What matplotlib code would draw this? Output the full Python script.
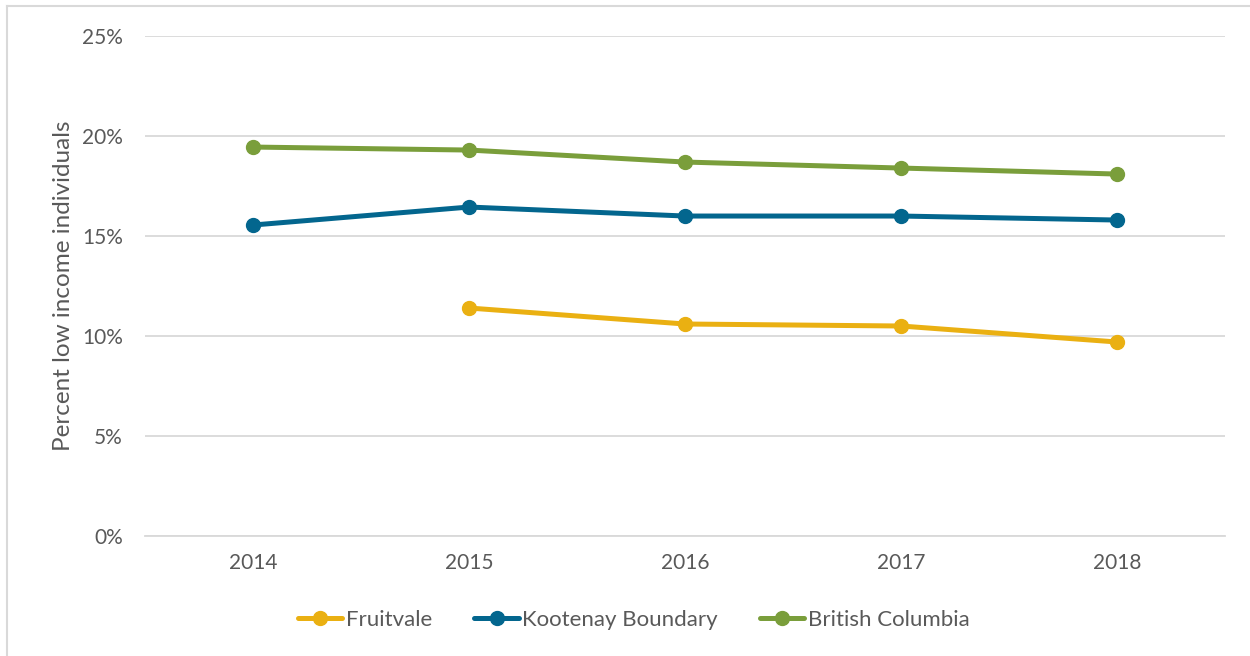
import matplotlib
matplotlib.use("Agg")
import matplotlib.pyplot as plt
from matplotlib.lines import Line2D
from matplotlib.ticker import PercentFormatter

plt.rcParams['font.family'] = ['Lato', 'DejaVu Sans']

years = ['2014', '2015', '2016', '2017', '2018']
fruitvale = [None, 11.4, 10.6, 10.5, 9.7]
kootenay = [15.55, 16.45, 16.0, 16.0, 15.8]
bc = [19.45, 19.3, 18.7, 18.4, 18.1]

series = [
    ('Fruitvale', fruitvale, '#EAB012'),
    ('Kootenay Boundary', kootenay, '#03668E'),
    ('British Columbia', bc, '#7A9E3B'),
]

fig = plt.figure(figsize=(12.5, 6.56), dpi=100)
ax = fig.add_axes([0.116, 0.183, 0.864, 0.762])

x = list(range(len(years)))
for name, vals, col in series:
    xs = [i for i, v in zip(x, vals) if v is not None]
    ys = [v for v in vals if v is not None]
    ax.plot(xs, ys, color=col, lw=3.6, marker='o', ms=10, label=name,
            solid_capstyle='round', zorder=3)

ax.set_xlim(-0.5, len(years) - 0.5)
ax.set_ylim(0, 25)
ax.set_yticks([0, 5, 10, 15, 20, 25])
ax.yaxis.set_major_formatter(PercentFormatter(decimals=0))
ax.set_xticks(x)
ax.set_xticklabels(years)
ax.grid(axis='y', color='#D9D9D9', lw=1.3)
ax.set_axisbelow(True)
for s in ['top', 'right', 'left']:
    ax.spines[s].set_visible(False)
ax.spines['bottom'].set_color('#D9D9D9')
ax.spines['bottom'].set_linewidth(1.3)
ax.tick_params(length=0, labelsize=15, colors='#595959', pad=12)
ax.tick_params(axis='y', pad=16)
ax.set_ylabel('Percent low income individuals', fontsize=17.5, color='#595959', labelpad=6)

fig.legend(*ax.get_legend_handles_labels(), loc='center', bbox_to_anchor=(0.507, 1 - 620/656),
           ncol=3, frameon=False, fontsize=16, labelcolor='#595959', handlelength=2.0,
           handletextpad=0.15, columnspacing=1.9)

fig.add_artist(Line2D([7/1250, 1.0], [1 - 6/656, 1 - 6/656], color='#D9D9D9', lw=1.5))
fig.add_artist(Line2D([7/1250, 7/1250], [0, 1 - 6/656], color='#D9D9D9', lw=1.5))

fig.savefig('out.png', dpi=100)
